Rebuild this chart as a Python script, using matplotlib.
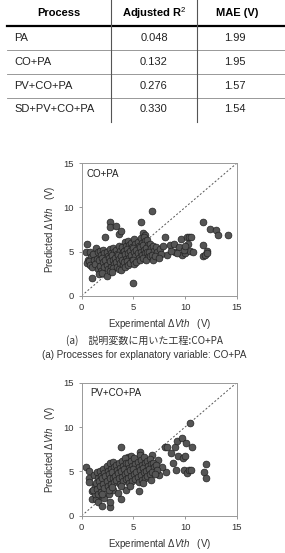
import numpy as np
import matplotlib
matplotlib.use("Agg")
import matplotlib.pyplot as plt

plt.rcParams['font.family'] = ['Liberation Sans', 'DejaVu Sans']
plt.rcParams['mathtext.fontset'] = 'custom'
plt.rcParams['mathtext.rm'] = 'Liberation Sans'
plt.rcParams['mathtext.it'] = 'Liberation Sans:italic'

# table data
col_heads = ['Process', 'Adjusted R$^2$', 'MAE (V)']
processes = ['PA', 'CO+PA', 'PV+CO+PA', 'SD+PV+CO+PA']
adj_r2 = ['0.048', '0.132', '0.276', '0.330']
mae = ['1.99', '1.95', '1.57', '1.54']

# scatter (a): CO+PA
exp_a = [0.5, 1.0, 2.3, 2.7, 2.7, 3.3, 3.6, 3.8, 5.0, 5.7, 6.8, 5.9, 6.1,
         11.7, 12.4, 13.0, 13.2, 14.2, 11.7, 11.7, 11.9, 12.1, 12.1,
         8.1, 8.5, 8.9, 8.3, 9.0, 9.4, 9.6, 9.7, 10.0, 10.2, 10.4, 10.6, 10.3, 10.5, 10.8, 9.9, 10.0, 9.2, 8.6,
         0.4, 0.6, 0.5, 0.8, 0.9, 0.7, 0.8, 1.1, 1.2, 1.0,
         1.4, 1.6, 1.5, 1.3, 1.6, 1.8, 1.9, 1.7, 1.8, 1.9, 1.7,
         2.1, 2.2, 2.0, 2.1, 2.2, 2.0, 2.4, 2.5, 2.3, 2.4, 2.5, 2.4,
         2.7, 2.8, 2.6, 2.7, 2.8, 2.7, 3.0, 3.1, 2.9, 3.0, 3.1, 3.0, 2.9,
         3.3, 3.4, 3.2, 3.3, 3.4, 3.6, 3.7, 3.5, 3.6, 3.7, 3.6,
         3.9, 4.0, 3.8, 3.9, 4.0, 3.8, 4.2, 4.3, 4.1, 4.2, 4.3, 4.1, 4.2,
         4.5, 4.6, 4.4, 4.5, 4.6, 4.4, 4.5, 4.8, 4.9, 4.7, 4.8, 4.9, 4.7,
         5.1, 5.2, 5.0, 5.1, 5.2, 5.0, 5.1, 5.4, 5.5, 5.3, 5.4, 5.5, 5.3,
         5.7, 5.8, 5.6, 5.7, 5.8, 5.6, 6.0, 6.1, 5.9, 6.0, 6.1, 5.9,
         6.3, 6.4, 6.2, 6.3, 6.4, 6.2, 6.6, 6.7, 6.5, 6.6, 6.9, 7.0, 6.8, 6.9,
         7.2, 7.3, 7.1, 7.6, 7.7, 7.5, 7.9]
pred_a = [5.9, 2.0, 6.6, 8.3, 7.8, 7.9, 7.0, 7.3, 1.4, 8.3, 9.6, 7.1, 6.9,
          8.4, 7.6, 7.4, 6.9, 6.9, 5.8, 4.5, 4.6, 5.1, 4.8,
          6.7, 5.8, 5.9, 4.6, 5.0, 5.5, 6.4, 4.6, 4.8, 6.6, 6.7, 6.7, 5.9, 5.1, 5.0, 5.2, 5.6, 4.8, 5.1,
          5.0, 4.1, 3.7, 5.0, 4.4, 3.9, 3.5, 4.7, 4.1, 3.3,
          5.4, 4.9, 4.2, 3.6, 3.0, 5.1, 4.6, 4.0, 3.4, 2.8, 2.5,
          5.2, 4.8, 4.3, 3.8, 3.2, 2.6, 5.0, 4.5, 4.0, 3.5, 3.0, 2.2,
          5.3, 4.8, 4.3, 3.9, 3.3, 2.8, 5.4, 5.0, 4.6, 4.1, 3.6, 3.1, 2.7,
          5.2, 4.7, 4.3, 3.8, 3.3, 5.6, 5.1, 4.6, 4.2, 3.7, 3.0,
          5.5, 5.0, 4.5, 4.0, 3.5, 2.9, 6.1, 5.6, 5.1, 4.7, 4.2, 3.8, 3.3,
          6.2, 5.8, 5.3, 4.8, 4.3, 3.9, 3.5, 6.0, 5.5, 5.1, 4.6, 4.1, 3.7,
          6.4, 5.9, 5.4, 5.0, 4.5, 4.0, 3.6, 6.1, 5.6, 5.2, 4.8, 4.3, 3.8,
          6.5, 6.0, 5.5, 5.0, 4.6, 4.1, 6.6, 6.2, 5.7, 5.2, 4.8, 4.3,
          6.3, 5.8, 5.4, 4.9, 4.4, 4.0, 5.9, 5.4, 5.0, 4.5, 5.6, 5.1, 4.6, 4.1,
          5.5, 5.0, 4.5, 5.3, 4.7, 4.3, 5.6]

# scatter (b): PV+CO+PA
exp_b = [0.4, 0.7, 0.7, 0.7, 1.0, 1.4, 1.6, 2.0, 2.7, 2.7,
         3.8, 4.5, 4.8, 5.6, 5.6, 6.8,
         8.1, 8.3, 8.6, 9.0, 9.2, 9.7, 10.1, 10.5, 10.7,
         8.2, 8.8, 9.1, 9.3, 9.8, 10.0, 9.9, 10.2, 10.4, 10.6,
         11.8, 12.0, 12.0, 7.8, 7.4, 7.5,
         1.0, 1.3, 1.8, 2.2, 2.6, 3.0, 3.5, 3.8, 5.5, 4.3,
         1.2, 1.3, 1.1, 1.5, 1.6, 1.4, 1.5, 1.6, 1.8, 1.9, 1.7, 1.8, 1.9,
         2.1, 2.2, 2.0, 2.1, 2.2, 2.0, 2.4, 2.5, 2.3, 2.4, 2.5,
         2.7, 2.8, 2.6, 2.7, 2.8, 2.6, 3.0, 3.1, 2.9, 3.0, 3.1, 2.9,
         3.3, 3.4, 3.2, 3.3, 3.6, 3.7, 3.5, 3.6, 3.7,
         3.9, 4.0, 3.8, 3.9, 4.0, 3.8, 4.2, 4.3, 4.1, 4.2, 4.3,
         4.5, 4.6, 4.4, 4.5, 4.6, 4.8, 4.9, 4.7, 4.8, 4.9, 4.7,
         5.1, 5.2, 5.0, 5.1, 5.2, 5.4, 5.5, 5.3, 5.4, 5.5,
         5.7, 5.8, 5.6, 5.7, 5.8, 6.0, 6.1, 5.9, 6.0, 6.1, 5.9,
         6.3, 6.4, 6.2, 6.3, 6.6, 6.7, 6.5, 6.6, 6.7, 6.9, 7.0, 6.8,
         7.2, 7.3, 7.1]
pred_b = [5.5, 5.0, 4.2, 3.8, 1.9, 1.9, 1.6, 1.1, 1.0, 1.5,
          7.8, 6.6, 6.7, 7.2, 6.8, 6.9,
          7.7, 7.7, 7.1, 7.7, 8.4, 8.8, 8.2, 10.5, 7.8,
          4.9, 6.0, 5.2, 6.7, 6.5, 6.7, 5.1, 4.8, 5.2, 5.1,
          4.9, 5.8, 4.3, 5.5, 6.3, 4.6,
          2.8, 2.4, 2.3, 2.0, 2.4, 2.9, 2.6, 1.9, 2.8, 2.9,
          4.6, 3.4, 2.9, 4.9, 4.3, 3.7, 3.0, 2.5, 5.0, 4.5, 3.9, 3.3, 2.7,
          5.3, 4.8, 4.2, 3.6, 3.1, 2.5, 5.6, 5.0, 4.5, 3.9, 3.4,
          5.9, 5.3, 4.7, 4.2, 3.6, 2.9, 6.1, 5.5, 4.9, 4.3, 3.8, 3.2,
          5.7, 5.1, 4.5, 4.0, 6.0, 5.4, 4.8, 4.2, 3.6,
          6.2, 5.6, 5.0, 4.4, 3.9, 3.3, 6.5, 5.9, 5.3, 4.7, 4.1,
          6.0, 5.4, 4.9, 4.3, 3.7, 6.2, 5.6, 5.1, 4.5, 3.9, 3.3,
          6.5, 5.8, 5.3, 4.7, 4.1, 6.1, 5.5, 4.9, 4.4, 3.8,
          6.3, 5.7, 5.2, 4.6, 4.0, 6.6, 6.0, 5.4, 4.9, 4.3, 3.7,
          6.2, 5.6, 5.0, 4.5, 6.4, 5.8, 5.3, 4.7, 4.0, 6.0, 5.5, 4.9,
          5.7, 5.2, 4.7]

ticks = [0, 5, 10, 15]

W, H = 285, 553
fig = plt.figure(figsize=(W / 100, H / 100), dpi=100)

# ---- table drawn in pixel coords ----
tab = fig.add_axes([0, 1 - 125 / H, 1, 125 / H])
tab.set_xlim(0, W)
tab.set_ylim(125, 0)
tab.axis('off')
col_x = [59, 154, 237]
for j in range(3):
    tab.text(col_x[j], 13, col_heads[j], ha='center', va='center', fontsize=8, fontweight='bold')
tab.plot([7, W], [26, 26], color='black', lw=1.6)
row_y = [38, 62, 86, 109]
for i in range(len(processes)):
    tab.text(14, row_y[i], processes[i], ha='left', va='center', fontsize=8, color='#222222')
    tab.text(col_x[1], row_y[i], adj_r2[i], ha='center', va='center', fontsize=8, color='#222222')
    tab.text(col_x[2] - 2, row_y[i], mae[i], ha='center', va='center', fontsize=8, color='#222222')
for ly in [50, 74, 98]:
    tab.plot([7, W], [ly, ly], color='#888888', lw=0.6)
tab.plot([111, 111], [0, 122], color='#555555', lw=0.8)
tab.plot([197, 197], [0, 122], color='#555555', lw=0.8)


def scatter_panel(rect, xs, ys, label, label_x):
    ax = fig.add_axes(rect)
    ax.plot([0, 15], [0, 15], ls=(0, (2, 2)), color='#555555', lw=0.7, zorder=1)
    ax.scatter(xs, ys, s=24, color='#555555', edgecolors='#222222', linewidths=0.5, zorder=2)
    ax.set_xlim(0, 15)
    ax.set_ylim(0, 15)
    ax.set_xticks(ticks)
    ax.set_yticks(ticks)
    ax.tick_params(labelsize=6.8, colors='#888888', labelcolor='#333333', length=2.5, width=0.6, pad=3)
    for s in ax.spines.values():
        s.set_color('#999999')
        s.set_linewidth(0.7)
    ax.set_xlabel('Experimental $ΔVth$   (V)', fontsize=7, color='#333333', labelpad=3)
    ax.set_ylabel('Predicted $ΔVth$   (V)', fontsize=7, color='#333333', labelpad=5)
    ax.text(label_x, 0.92, label, transform=ax.transAxes, ha='left', va='center', fontsize=7, color='#222222')
    return ax


scatter_panel([81.7 / W, 1 - 295.7 / H, 155 / W, 132.4 / H], exp_a, pred_a, 'CO+PA', 0.032)
scatter_panel([81.7 / W, 1 - 515.7 / H, 155 / W, 133 / H], exp_b, pred_b, 'PV+CO+PA', 0.054)

fig.text(144 / W, 1 - 341 / H, '(a)\u3000説明変数に用いた工程:CO+PA', ha='center', va='center',
         fontsize=7.2, color='#333333', family=['Noto Sans CJK JP', 'Liberation Sans'])
fig.text(144 / W, 1 - 355 / H, '(a) Processes for explanatory variable: CO+PA', ha='center', va='center',
         fontsize=7.1, color='#333333')

fig.savefig('out.png', dpi=100)
